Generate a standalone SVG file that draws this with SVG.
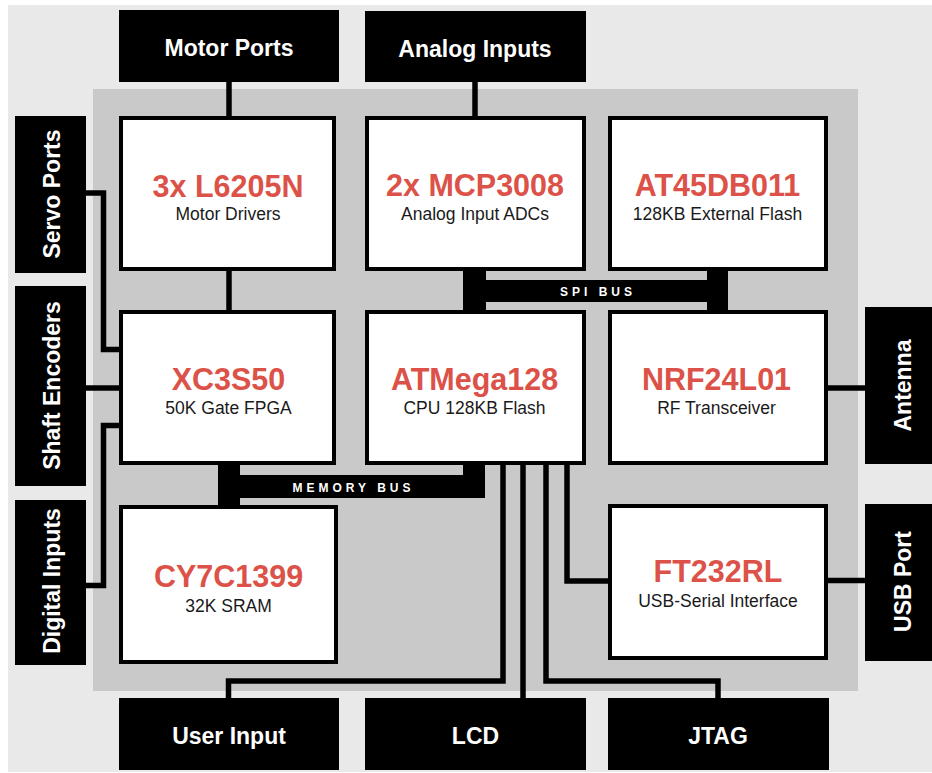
<svg xmlns="http://www.w3.org/2000/svg" width="932" height="773" viewBox="0 0 932 773">
<style>
.node{fill:#fff;stroke:#000;stroke-width:4}
.ext{fill:#000}
.title{font-family:"Liberation Sans",Arial,Helvetica,sans-serif;font-weight:bold;font-size:30.5px;fill:#dc5248;text-anchor:middle}
.sub{font-family:"Liberation Sans",Arial,Helvetica,sans-serif;font-size:17.5px;fill:#1a1a1a;text-anchor:middle}
.lbl{font-family:"Liberation Sans",Arial,Helvetica,sans-serif;font-weight:bold;font-size:23px;fill:#fff;text-anchor:middle}
.bus{font-family:"Liberation Sans",Arial,Helvetica,sans-serif;font-weight:bold;font-size:12px;fill:#fff;text-anchor:middle;letter-spacing:4px}
.wire{fill:none;stroke:#000;stroke-width:5.5}
</style>
<rect x="0" y="0" width="932" height="773" fill="#fff"/>
<rect x="8" y="5" width="924" height="767" fill="#e9e9e9"/>
<rect x="93" y="89" width="765" height="602" fill="#c9c9c9"/>

<g id="connectors">
<path class="wire" d="M229,82V116"/>
<path class="wire" d="M229,271V310"/>
<path class="wire" d="M475,82V116"/>
<path class="wire" d="M86,193H103.5V349.5H119"/>
<path class="wire" d="M86,388H119"/>
<path class="wire" d="M86,585.5H103.5V425.5H119"/>
<path class="wire" d="M828,388H865"/>
<path class="wire" d="M828,580.5H865"/>
<path class="wire" d="M503,465V681H228.5V698"/>
<path class="wire" d="M523,465V698"/>
<path class="wire" d="M546,465V681H718V698"/>
<path class="wire" d="M567,465V581H608"/>
<g id="spi-bus">
<rect x="463" y="268" width="23" height="44" fill="#000"/>
<rect x="707" y="268" width="21" height="44" fill="#000"/>
<rect x="463" y="280" width="265" height="22" fill="#000"/>
<text class="bus" x="598" y="296">SPI BUS</text>
</g>
<g id="memory-bus">
<rect x="218" y="463" width="22" height="44" fill="#000"/>
<rect x="463" y="463" width="22" height="35" fill="#000"/>
<rect x="218" y="475" width="267" height="23" fill="#000"/>
<text class="bus" x="353.5" y="492">MEMORY BUS</text>
</g>
</g>

<g id="motor-ports"><rect class="ext" x="119" y="10" width="220" height="72"/><text class="lbl" x="229" y="56">Motor Ports</text></g>
<g id="analog-inputs"><rect class="ext" x="365" y="11" width="221" height="71"/><text class="lbl" x="475" y="57">Analog Inputs</text></g>
<g id="servo-ports"><rect class="ext" x="15" y="116" width="71" height="157"/><text class="lbl" transform="translate(60,194) rotate(-90)">Servo Ports</text></g>
<g id="shaft-encoders"><rect class="ext" x="15" y="286" width="71" height="200"/><text class="lbl" transform="translate(60,385.5) rotate(-90)">Shaft Encoders</text></g>
<g id="digital-inputs"><rect class="ext" x="15" y="500" width="71" height="165"/><text class="lbl" transform="translate(60,581) rotate(-90)">Digital Inputs</text></g>
<g id="antenna"><rect class="ext" x="865" y="307" width="80" height="157"/><text class="lbl" transform="translate(911,385.5) rotate(-90)">Antenna</text></g>
<g id="usb-port"><rect class="ext" x="865" y="504" width="80" height="157"/><text class="lbl" transform="translate(911,581.5) rotate(-90)">USB Port</text></g>
<g id="user-input"><rect class="ext" x="119" y="698" width="220" height="72"/><text class="lbl" x="229" y="744">User Input</text></g>
<g id="lcd"><rect class="ext" x="365" y="698" width="221" height="72"/><text class="lbl" x="475.5" y="744">LCD</text></g>
<g id="jtag"><rect class="ext" x="608" y="698" width="221" height="72"/><text class="lbl" x="718" y="744">JTAG</text></g>

<g id="l6205n"><rect class="node" x="121" y="118" width="213" height="151"/><text class="title" x="228" y="196.5">3x L6205N</text><text class="sub" x="228" y="220">Motor Drivers</text></g>
<g id="mcp3008"><rect class="node" x="367" y="118" width="217" height="151"/><text class="title" x="475" y="195.5">2x MCP3008</text><text class="sub" x="475" y="219.5">Analog Input ADCs</text></g>
<g id="at45db011"><rect class="node" x="610" y="118" width="216" height="151"/><text class="title" x="717.5" y="195.5">AT45DB011</text><text class="sub" x="717.5" y="220">128KB External Flash</text></g>
<g id="xc3s50"><rect class="node" x="121" y="312" width="213" height="151"/><text class="title" x="228.5" y="390">XC3S50</text><text class="sub" x="228.5" y="414">50K Gate FPGA</text></g>
<g id="atmega128"><rect class="node" x="367" y="312" width="217" height="151"/><text class="title" x="474.5" y="390">ATMega128</text><text class="sub" x="474.5" y="414">CPU 128KB Flash</text></g>
<g id="nrf24l01"><rect class="node" x="610" y="312" width="216" height="151"/><text class="title" x="716.5" y="390">NRF24L01</text><text class="sub" x="716.5" y="414">RF Transceiver</text></g>
<g id="cy7c1399"><rect class="node" x="121" y="507" width="215" height="155"/><text class="title" x="228.5" y="586.5">CY7C1399</text><text class="sub" x="228.5" y="611.5">32K SRAM</text></g>
<g id="ft232rl"><rect class="node" x="610" y="506" width="216" height="152"/><text class="title" x="718" y="582">FT232RL</text><text class="sub" x="718" y="606.5">USB-Serial Interface</text></g>
</svg>
